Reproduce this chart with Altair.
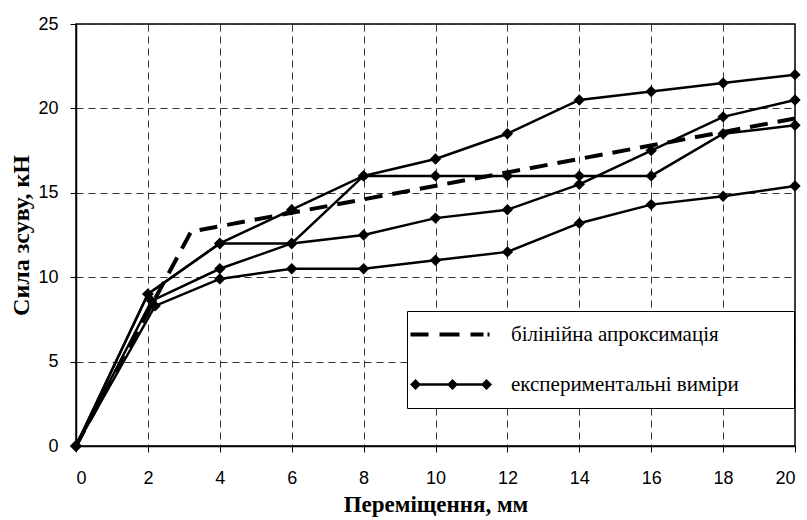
import altair as alt
import pandas as pd

# ---- data ----
x_a = [0, 2, 4, 6, 8, 10, 12, 14, 16, 18, 20]
y_a = [0, 9.0, 12.0, 14.0, 16.0, 17.0, 18.5, 20.5, 21.0, 21.5, 22.0]

x_b = [0, 2, 4, 6, 8, 10, 12, 14, 16, 18, 20]
y_b = [0, 9.0, 12.0, 12.0, 16.0, 16.0, 16.0, 16.0, 16.0, 18.5, 19.0]

x_c = [0, 2.1, 4, 6, 8, 10, 12, 14, 16, 18, 20]
y_c = [0, 8.6, 10.5, 12.0, 12.5, 13.5, 14.0, 15.5, 17.5, 19.5, 20.5]

x_d = [0, 2.2, 4, 6, 8, 10, 12, 14, 16, 18, 20]
y_d = [0, 8.3, 9.9, 10.5, 10.5, 11.0, 11.5, 13.2, 14.3, 14.8, 15.4]

approx_x = [0, 3.2, 20]
approx_y = [0, 12.7, 19.4]

legend_labels = ["білінійна апроксимація", "експериментальні виміри"]

x_ticks = [0, 2, 4, 6, 8, 10, 12, 14, 16, 18, 20]
y_ticks = [0, 5, 10, 15, 20, 25]

x_title = "Переміщення, мм"
y_title = "Сила зсуву, кН"

# ---- tables ----
rows = []
for name, xs, ys in [("A", x_a, y_a), ("B", x_b, y_b), ("C", x_c, y_c), ("D", x_d, y_d)]:
    for xv, yv in zip(xs, ys):
        rows.append({"series": name, "x": xv, "y": yv})
exp_df = pd.DataFrame(rows)
approx_df = pd.DataFrame({"x": approx_x, "y": approx_y})
legend_df = pd.DataFrame({"label": legend_labels})

# legend symbols (custom SVG paths, unit = sqrt(symbolSize)/2 px)
dash_path = ("M-2,-0.2 L-0.2,-0.2 L-0.2,0.2 L-2,0.2 Z "
             "M0.9,-0.2 L2.9,-0.2 L2.9,0.2 L0.9,0.2 Z "
             "M4,-0.2 L5.3,-0.2 L5.3,0.2 L4,0.2 Z "
             "M5.7,-0.2 L5.9,-0.2 L5.9,0.2 L5.7,0.2 Z")
marker_path = ("M-1.8,-0.12 L5.9,-0.12 L5.9,0.12 L-1.8,0.12 Z "
               "M-2.05,0 L-1.5,-0.55 L-0.95,0 L-1.5,0.55 Z "
               "M1.65,0 L2.2,-0.55 L2.75,0 L2.2,0.55 Z "
               "M5.05,0 L5.6,-0.55 L6.15,0 L5.6,0.55 Z")

xscale = alt.Scale(domain=[0, 20], nice=False, zero=False)
yscale = alt.Scale(domain=[0, 25], nice=False)

xaxis = alt.Axis(values=x_ticks, title=x_title, format="d")
yaxis = alt.Axis(values=y_ticks, title=y_title, format="d")

lines = alt.Chart(exp_df).mark_line(color="black", strokeWidth=2.5).encode(
    x=alt.X("x:Q", scale=xscale, axis=xaxis),
    y=alt.Y("y:Q", scale=yscale, axis=yaxis),
    detail="series:N",
)

points = alt.Chart(exp_df).mark_point(
    shape="diamond", filled=True, color="black", size=130, opacity=1
).encode(x="x:Q", y="y:Q")

approx = alt.Chart(approx_df).mark_line(
    color="black", strokeWidth=4, strokeDash=[18, 10]
).encode(x="x:Q", y="y:Q")

legend_layer = alt.Chart(legend_df).mark_point(
    opacity=0, filled=True, color="black"
).encode(
    x=alt.value(0),
    y=alt.value(0),
    shape=alt.Shape(
        "label:N",
        scale=alt.Scale(domain=legend_labels, range=[dash_path, marker_path]),
        legend=alt.Legend(
            title=None,
            orient="none",
            legendX=331,
            legendY=287,
            padding=13,
            strokeColor="black",
            fillColor="white",
            symbolSize=400,
            symbolFillColor="black",
            symbolStrokeColor="black",
            symbolStrokeWidth=0,
            symbolOpacity=1,
            labelFont="Liberation Serif",
            labelFontSize=21,
            labelColor="black",
            labelOffset=70,
            labelLimit=400,
            rowPadding=28,
            labelExpr="datum.label + '\u2003\u2003\u200b'",
        ),
    ),
)

chart = alt.layer(approx, lines, points, legend_layer).properties(
    width=719,
    height=422,
    autosize=alt.AutoSizeParams(type="none"),
    padding={"left": 76, "top": 24, "right": 12, "bottom": 74},
).configure_view(
    stroke="black", strokeWidth=1.5
).configure_legend(
    labelFont="Liberation Serif",
    labelFontSize=21,
    labelColor="black",
).configure_axis(
    grid=True,
    gridColor="#333333",
    gridDash=[7, 5],
    gridWidth=1,
    domainColor="black",
    domainWidth=1.5,
    tickColor="black",
    tickSize=6,
    labelFont="Liberation Sans",
    labelFontSize=18,
    labelColor="black",
    labelPadding=12,
    titleFont="Liberation Serif",
    titleFontWeight="bold",
    titleColor="black",
).configure_axisX(
    titlePadding=6,
    titleFontSize=23,
    labelPadding=17,
).configure_axisY(
    titlePadding=4,
    titleFontSize=24,
)

chart.save("out.html", embed_options={"renderer": "svg", "actions": False})
